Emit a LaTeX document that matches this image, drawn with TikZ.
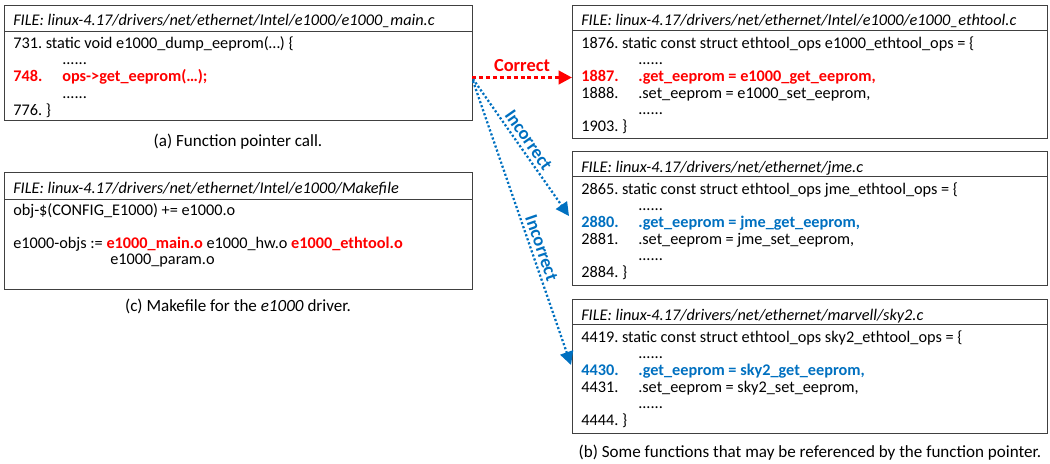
\documentclass[tikz,border=0pt]{standalone}
\usepackage{fontspec}
\setmainfont{Carlito}
\usetikzlibrary{arrows.meta,fit}
\definecolor{cred}{RGB}{255,0,0}
\definecolor{cblue}{RGB}{0,112,192}
\definecolor{cframe}{RGB}{64,64,64}
\frenchspacing
\begin{document}
\begin{tikzpicture}[x=0.75pt,y=-0.75pt,
  font=\fontsize{12.2}{14}\selectfont\frenchspacing,
  txt/.style={anchor=base west, inner sep=0pt},
  captxt/.style={anchor=base, inner sep=0pt, font=\fontsize{12.8}{15}\selectfont\frenchspacing},
  hl/.style={txt, font=\fontsize{12.2}{14}\selectfont\bfseries\frenchspacing, text=#1},
  frame/.style={draw=cframe, line width=0.75pt, inner sep=0pt},
  sepline/.style={draw=cframe, line width=0.6pt},
  okarrow/.style={draw=cred, line width=2.2pt, dash pattern=on 3pt off 2.2pt,
    -{Triangle[length=10pt,width=10pt]}},
  badarrow/.style={draw=cblue, line width=1.7pt, dash pattern=on 1.6pt off 1.6pt,
    -{Triangle[length=10pt,width=10pt]}},
  lbl/.style={font=\fontsize{13.8}{15}\selectfont\bfseries, inner sep=1pt}]
\useasboundingbox (0,0) rectangle (1050,464);

% ---------- box (a)
\coordinate (a1) at (4,5); \coordinate (a2) at (472,120);
\node[frame, fit=(a1)(a2)] (boxa) {};
\draw[sepline] (4,31) -- (472,31);
\node[txt] (ah) at (13,26) {\itshape FILE: linux-4.17/drivers/net/ethernet/Intel/e1000/e1000\_main.c};
\node[txt] (al1) at (13,48) {731. static void e1000\_dump\_eeprom(…) \{};
\node[txt] (al2) at (62,64.7) {......};
\node[hl=cred] (al3n) at (13,81.3) {748.};
\node[hl=cred] (al3) at (62,81.3) {ops->get\_eeprom(…);};
\node[txt] (al4) at (62,98) {......};
\node[txt] (al5) at (13,115) {776. \}};
\node[captxt] (capa) at (238,146) {(a) Function pointer call.};

% ---------- box (c)
\coordinate (c1) at (4,172); \coordinate (c2) at (472,289);
\node[frame, fit=(c1)(c2)] (boxc) {};
\draw[sepline] (4,199) -- (472,199);
\node[txt] (ch) at (13,193) {\itshape FILE: linux-4.17/drivers/net/ethernet/Intel/e1000/Makefile};
\node[txt] (cl1) at (13,215) {obj-\$(CONFIG\_E1000) += e1000.o};
\node[txt] (cl2) at (13,248) {e1000-objs := {\bfseries\color{cred}e1000\_main.o} e1000\_hw.o {\bfseries\color{cred}e1000\_ethtool.o}};
\node[txt] (cl3) at (110,264.5) {e1000\_param.o};
\node[captxt] (capc) at (238,311) {(c) Makefile for the \textit{e1000} driver.};

% ---------- box (b1)
\coordinate (b11) at (572,5); \coordinate (b12) at (1047,138);
\node[frame, fit=(b11)(b12)] (boxb1) {};
\draw[sepline] (572,30) -- (1047,30);
\node[txt] (b1h) at (581,26) {\itshape FILE: linux-4.17/drivers/net/ethernet/Intel/e1000/e1000\_ethtool.c};
\node[txt] (b1l1) at (581,48) {1876. static const struct ethtool\_ops e1000\_ethtool\_ops = \{};
\node[txt] (b1l2) at (638,64.7) {......};
\node[hl=cred] (b1l3n) at (581,81.3) {1887.};
\node[hl=cred] (b1l3) at (638,81.3) {.get\_eeprom = e1000\_get\_eeprom,};
\node[txt] (b1l4n) at (581,98) {1888.};
\node[txt] (b1l4) at (638,98) {.set\_eeprom = e1000\_set\_eeprom,};
\node[txt] (b1l5) at (638,114.7) {......};
\node[txt] (b1l6) at (581,131.4) {1903. \}};

% ---------- box (b2)
\coordinate (b21) at (572,151); \coordinate (b22) at (1047,285);
\node[frame, fit=(b21)(b22)] (boxb2) {};
\draw[sepline] (572,176.5) -- (1047,176.5);
\node[txt] (b2h) at (581,172) {\itshape FILE: linux-4.17/drivers/net/ethernet/jme.c};
\node[txt] (b2l1) at (581,194) {2865. static const struct ethtool\_ops jme\_ethtool\_ops = \{};
\node[txt] (b2l2) at (638,210.7) {......};
\node[hl=cblue] (b2l3n) at (581,227.3) {2880.};
\node[hl=cblue] (b2l3) at (638,227.3) {.get\_eeprom = jme\_get\_eeprom,};
\node[txt] (b2l4n) at (581,244) {2881.};
\node[txt] (b2l4) at (638,244) {.set\_eeprom = jme\_set\_eeprom,};
\node[txt] (b2l5) at (638,260.7) {......};
\node[txt] (b2l6) at (581,277.4) {2884. \}};

% ---------- box (b3)
\coordinate (b31) at (572,299); \coordinate (b32) at (1047,433);
\node[frame, fit=(b31)(b32)] (boxb3) {};
\draw[sepline] (572,324) -- (1047,324);
\node[txt] (b3h) at (581,320) {\itshape FILE: linux-4.17/drivers/net/ethernet/marvell/sky2.c};
\node[txt] (b3l1) at (581,342) {4419. static const struct ethtool\_ops sky2\_ethtool\_ops = \{};
\node[txt] (b3l2) at (638,358.7) {......};
\node[hl=cblue] (b3l3n) at (581,375.3) {4430.};
\node[hl=cblue] (b3l3) at (638,375.3) {.get\_eeprom = sky2\_get\_eeprom,};
\node[txt] (b3l4n) at (581,392) {4431.};
\node[txt] (b3l4) at (638,392) {.set\_eeprom = sky2\_set\_eeprom,};
\node[txt] (b3l5) at (638,408.7) {......};
\node[txt] (b3l6) at (581,425.4) {4444. \}};
\node[captxt] (capb) at (810,457) {(b) Some functions that may be referenced by the function pointer.};

% ---------- connectors
\coordinate (s0) at (472,77.5);
\coordinate (s1) at (473,79);
\coordinate (s2) at (473,81);
\coordinate (t0) at (572,77.5);
\coordinate (t1) at (569,216);
\coordinate (t2) at (571,365);
\draw[okarrow] (s0) -- node[lbl, text=cred, above=2pt] {Correct} (t0);
\draw[badarrow] (s1) -- node[lbl, text=cblue, sloped, above=1.5pt, pos=0.49] {Incorrect} (t1);
\draw[badarrow] (s2) -- node[lbl, text=cblue, sloped, above=1.5pt, pos=0.60] {Incorrect} (t2);
\end{tikzpicture}
\end{document}
